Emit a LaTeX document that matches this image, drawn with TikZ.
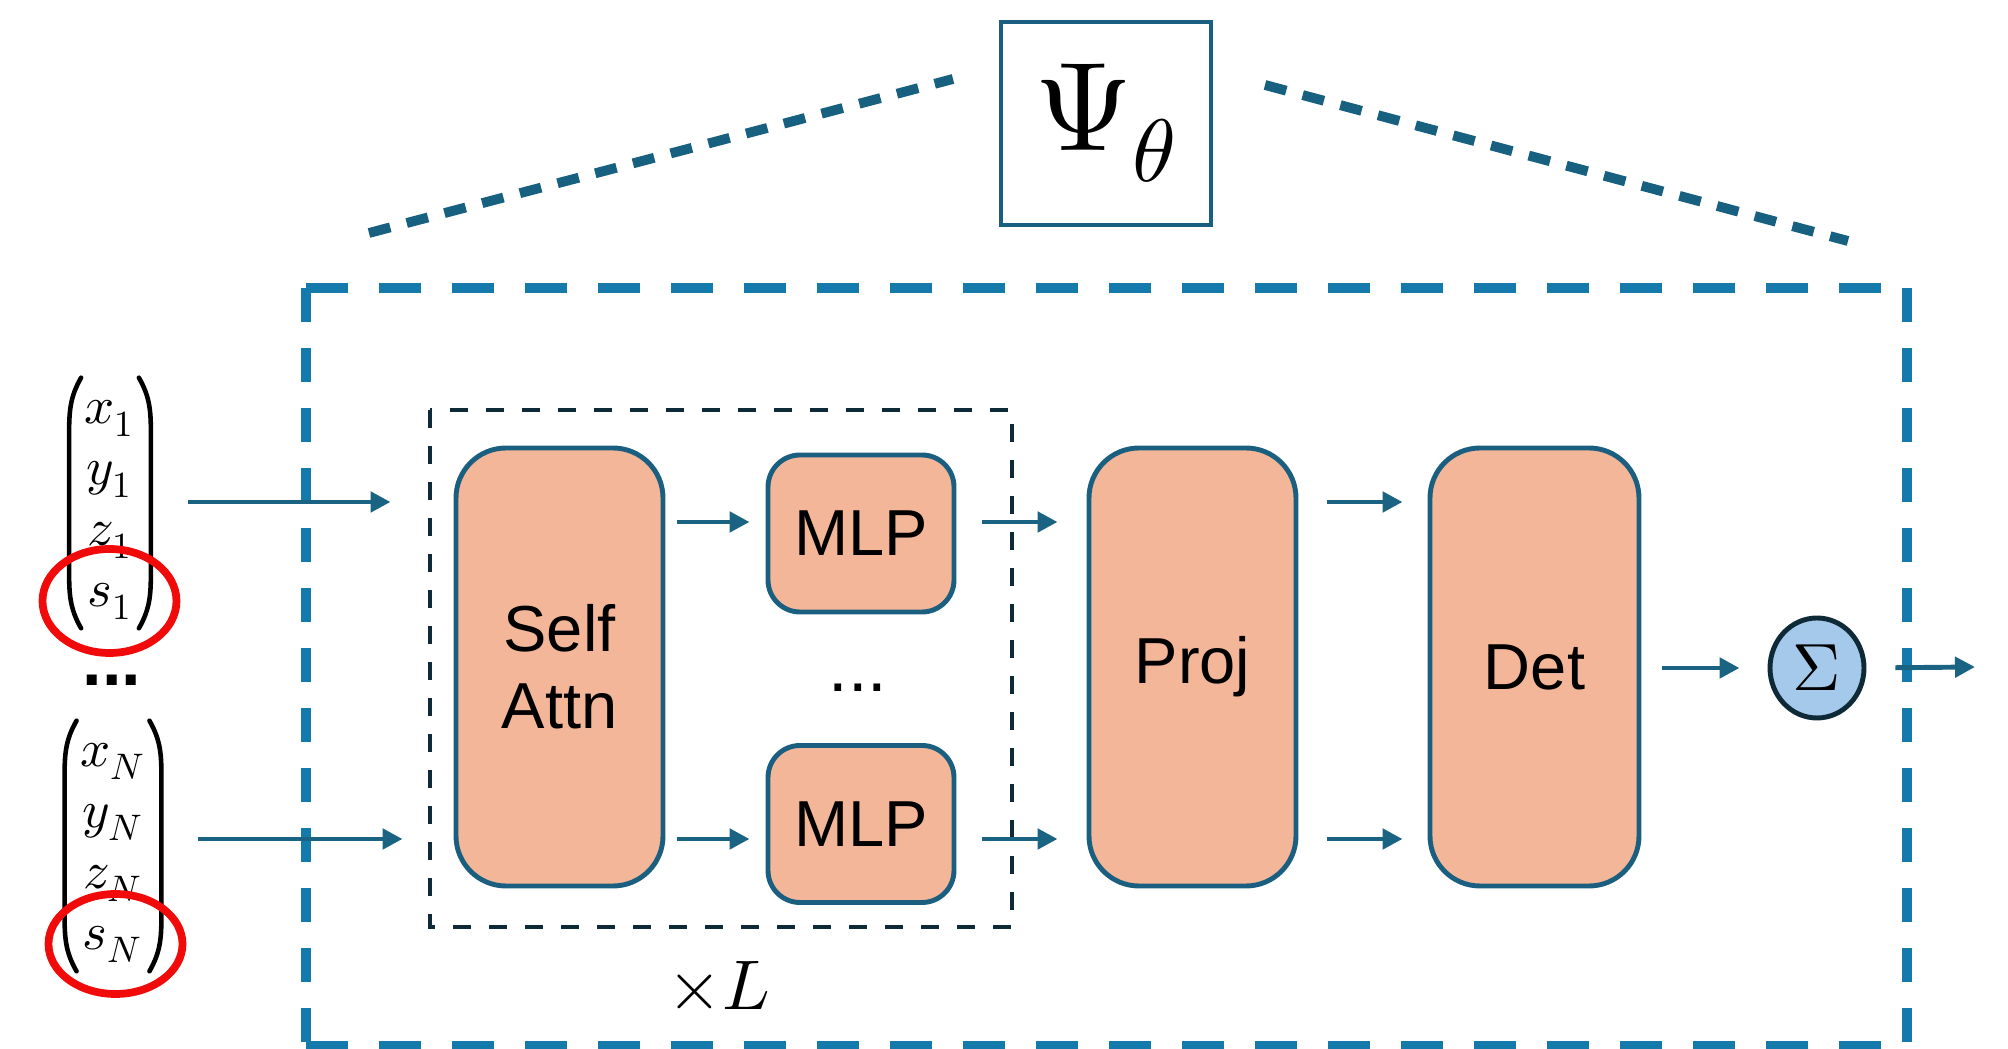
\documentclass[tikz,border=0pt]{standalone}
\usepackage{amsmath}
\usepackage{fontspec}
\usepackage{unicode-math}
\setmathfont{Latin Modern Math}
\setsansfont{Liberation Sans}
\usetikzlibrary{arrows.meta,shapes.geometric,positioning}

\definecolor{boxfill}{HTML}{F4B698}
\definecolor{boxline}{HTML}{1B5F80}
\definecolor{arrcol}{HTML}{1B6383}
\definecolor{framecol}{HTML}{137AAB}
\definecolor{dotcol}{HTML}{17607F}
\definecolor{innercol}{HTML}{0E2A36}
\definecolor{sumfill}{HTML}{A4C9EA}
\definecolor{markred}{HTML}{F00A0A}

\newcommand{\blockfont}{\sffamily\fontsize{18.5}{21.8}\selectfont}
\newcommand{\invec}[4]{$\begin{matrix} #1\\ #2\\ #3\\ #4 \end{matrix}$}

\tikzset{
    block/.style={draw=boxline, line width=1.4pt, fill=boxfill, rounded corners=0.5cm,
        font=\blockfont, align=center, inner sep=0pt},
    mlpbox/.style={block, rounded corners=0.32cm, minimum width=1.86cm, minimum height=1.57cm},
    tallbox/.style={block, minimum width=2.07cm, minimum height=4.38cm},
    arr/.style={draw=arrcol, line width=1.4pt, -{Triangle[length=0.2cm,width=0.2cm]}},
    vec/.style={inner sep=0pt, font=\fontsize{15}{17.3}\selectfont},
    paren/.style={draw=black, line width=1.3pt, line cap=round},
    redmark/.style={draw=markred, line width=2.2pt},
    framedash/.style={draw=framecol, line width=3pt},
    dotline/.style={draw=dotcol, line width=2.8pt, dash pattern=on 0.22cm off 0.17cm},
    innerdash/.style={draw=innercol, line width=1.4pt, dash pattern=on 0.18cm off 0.18cm},
    dotsym/.style={font=\sffamily\bfseries\fontsize{20}{22}\selectfont, inner sep=0pt}
}

\begin{document}
\begin{tikzpicture}
    \useasboundingbox (0,0) rectangle (20.08,-10.49);

    % Psi box and the lines down to the frame
    \node[draw=boxline, line width=1.3pt, minimum width=2.1cm, minimum height=2.03cm, inner sep=0pt,
        font=\fontsize{36}{40}\selectfont] (psi) at (11.06,-1.235) {$\Psi_{\theta}$};
    \draw[dotline] (3.69,-2.33) -- (9.53,-0.79);
    \draw[dotline] (12.65,-0.85) -- (18.48,-2.41);

    % outer frame
    \draw[framedash, dash pattern=on 0.42cm off 0.31cm] (3.06,-2.88) -- (19.07,-2.88);
    \draw[framedash, dash pattern=on 0.42cm off 0.31cm] (3.06,-10.46) -- (19.07,-10.46);
    \draw[framedash, dash pattern=on 0.34cm off 0.26cm] (3.06,-2.88) -- (3.06,-10.46);
    \draw[framedash, dash pattern=on 0.34cm off 0.26cm] (19.07,-2.88) -- (19.07,-10.46);

    % repeated layer
    \draw[innerdash] (4.30,-4.10) rectangle (10.12,-9.27);
    \node[font=\fontsize{20}{22}\selectfont] (times) at (7.19,-9.86) {$\times L$};

    % inputs
    \node[vec] (v1) at (1.10,-5.03) {\invec{x_1}{y_1}{z_1}{s_1}};
    \node[vec] (vN) at (1.13,-8.46) {\invec{x_N}{y_N}{z_N}{s_N}};
    \foreach \v in {v1,vN}{
        \draw[paren] ([xshift=-0.03cm,yshift=0.03cm]\v.north west) to[out=-120,in=90]
            ([xshift=-0.15cm,yshift=-0.55cm]\v.north west) -- ([xshift=-0.15cm,yshift=0.55cm]\v.south west)
            to[out=-90,in=120] ([xshift=-0.03cm,yshift=-0.03cm]\v.south west);
        \draw[paren] ([xshift=0.03cm,yshift=0.03cm]\v.north east) to[out=-60,in=90]
            ([xshift=0.15cm,yshift=-0.55cm]\v.north east) -- ([xshift=0.15cm,yshift=0.55cm]\v.south east)
            to[out=-90,in=60] ([xshift=0.03cm,yshift=-0.03cm]\v.south east);
    }
    \node[dotsym] (vdots) at (1.12,-6.80) {...};
    \draw[redmark] (1.095,-6.01) ellipse [x radius=0.67, y radius=0.52];
    \draw[redmark] (1.155,-9.44) ellipse [x radius=0.67, y radius=0.50];

    % blocks
    \node[tallbox] (sa) at (5.595,-6.67) {Self\\Attn};
    \node[mlpbox] (mlpa) at (8.61,-5.335) {MLP};
    \node[mlpbox] (mlpb) at (8.61,-8.24) {MLP};
    \node[dotsym, font=\sffamily\fontsize{20}{22}\selectfont] (mdots) at (8.58,-6.88) {...};
    \node[tallbox] (proj) at (11.925,-6.67) {Proj};
    \node[tallbox, minimum width=2.09cm] (det) at (15.345,-6.67) {Det};
    \node[ellipse, draw=innercol, line width=1.4pt, fill=sumfill, minimum width=0.94cm,
        minimum height=1.0cm, inner sep=0pt, font=\fontsize{19}{21}\selectfont] (sum) at (18.17,-6.68) {$\Sigma$};
    \coordinate (out) at (19.75,-6.67);

    % arrows
    \coordinate (rowa) at (0,-5.02);
    \coordinate (rowm) at (0,-5.22);
    \coordinate (rowb) at (0,-8.39);
    \draw[arr, shorten <=0.78cm, shorten >=0.63cm] (v1.center |- rowa) -- (sa.west |- rowa);
    \draw[arr, shorten <=0.85cm, shorten >=0.51cm] (vN.center |- rowb) -- (sa.west |- rowb);
    \draw[arr, shorten <=0.12cm, shorten >=0.16cm] (sa.east |- rowm) -- (mlpa.west |- rowm);
    \draw[arr, shorten <=0.12cm, shorten >=0.16cm] (sa.east |- rowb) -- (mlpb.west |- rowb);
    \draw[arr, shorten <=0.26cm, shorten >=0.29cm] (mlpa.east |- rowm) -- (proj.west |- rowm);
    \draw[arr, shorten <=0.26cm, shorten >=0.29cm] (mlpb.east |- rowb) -- (proj.west |- rowb);
    \draw[arr, shorten <=0.29cm, shorten >=0.25cm] (proj.east |- rowa) -- (det.west |- rowa);
    \draw[arr, shorten <=0.29cm, shorten >=0.25cm] (proj.east |- rowb) -- (det.west |- rowb);
    \draw[arr, shorten <=0.21cm, shorten >=0.28cm] (det.east |- sum) -- (sum.west);
    \draw[arr, shorten <=0.29cm] (sum.east) -- (out);
\end{tikzpicture}
\end{document}
